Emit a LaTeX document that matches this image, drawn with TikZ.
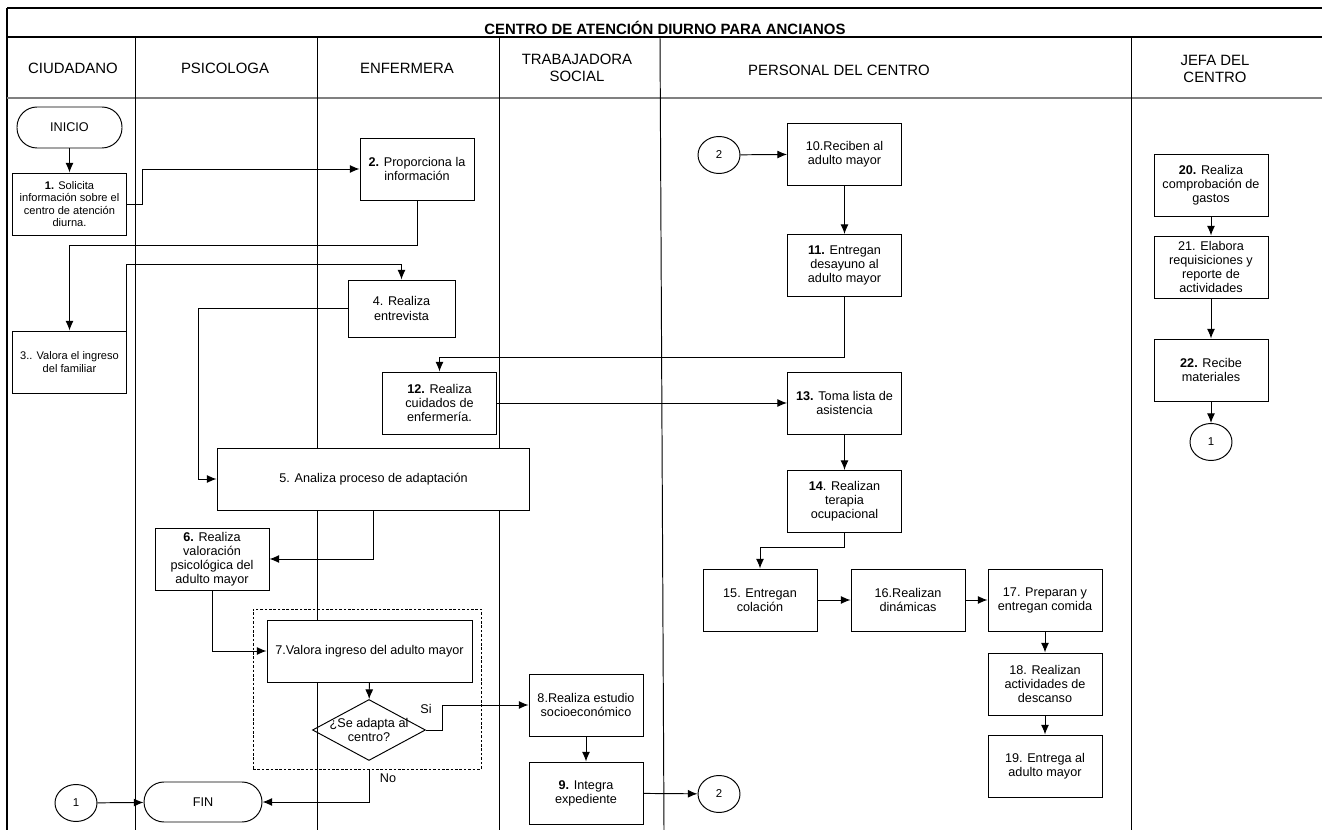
\documentclass[tikz,border=0pt]{standalone}
\usepackage{fontspec}
\setmainfont{Liberation Sans}
\usetikzlibrary{arrows.meta}
\usetikzlibrary{shapes.geometric}
\tikzstyle{box}=[rectangle, draw=black, fill=white, line width=.55pt,
                 minimum width=2.28cm, minimum height=1.24cm, inner sep=0pt,
                 align=center, font=\fontsize{7.2}{8}\selectfont]
\tikzstyle{term}=[rectangle, rounded corners=.4cm, draw=black, fill=white,
                  line width=.55pt, minimum height=.82cm, inner sep=0pt,
                  font=\fontsize{7.2}{8}\selectfont]
\tikzstyle{conn}=[ellipse, draw=black, fill=white, line width=.55pt,
                  minimum width=.84cm, minimum height=.74cm, inner sep=0pt,
                  font=\fontsize{6.5}{7}\selectfont]
\tikzstyle{dec}=[diamond, draw=black, line width=.55pt, minimum width=2.26cm,
                 minimum height=1.22cm, inner sep=0pt]
\tikzstyle{arr}=[-{Latex[length=5.5pt,width=4.5pt]}, line width=.55pt]
\tikzstyle{hdr}=[align=center, font=\fontsize{8.5}{9.5}\selectfont]
\tikzstyle{lbl}=[inner sep=0pt, font=\fontsize{7.2}{8}\selectfont]

\begin{document}
\begin{tikzpicture}[x=0.02cm, y=-0.02cm]
    \useasboundingbox (0,0) rectangle (1322,830);
    % frame and lanes
    \draw[line width=.6pt] (7,8) -- (1322,8);
    \draw[line width=.6pt] (7,8) -- (7,830);
    \draw[line width=.6pt] (7,37) -- (1322,37);
    \draw[gray, line width=1.2pt] (7,98) -- (1322,98);
    \foreach \x in {135,317,499,1131}
      \draw[line width=.55pt] (\x,37) -- (\x,830);
    \draw[line width=.55pt] (660,37) -- (664,830);
    \node[font=\bfseries\fontsize{8.5}{9.5}\selectfont] (titulo) at (665,28)
      {CENTRO DE ATENCIÓN DIURNO PARA ANCIANOS};
    \node[hdr] (h1) at (73,68) {CIUDADANO};
    \node[hdr] (h2) at (225,68) {PSICOLOGA};
    \node[hdr] (h3) at (407,68) {ENFERMERA};
    \node[hdr] (h4) at (577,68) {TRABAJADORA\\SOCIAL};
    \node[hdr] (h5) at (839,70) {PERSONAL DEL CENTRO};
    \node[hdr] (h6) at (1215,69) {JEFA DEL\\CENTRO};
    % nodes
    \node[draw, dash pattern=on 1.5pt off 1pt, line width=.5pt,
      minimum width=4.56cm, minimum height=3.2cm] (grupo) at (367,689) {};
    \node[term, minimum width=2.1cm] (inicio) at (69.5,127.5) {INICIO};
    \node[box, font=\fontsize{6.3}{7}\selectfont] (p1) at (69.5,204)
      {\textbf{1.} Solicita\\información sobre el\\centro de atención\\diurna.};
    \node[box] (p2) at (417,169) {\textbf{2.} Proporciona la\\información};
    \node[box, font=\fontsize{6.3}{7}\selectfont] (p3) at (69.5,362)
      {3.. Valora el ingreso\\del familiar};
    \node[box, minimum width=2.14cm, minimum height=1.14cm] (p4) at (401.5,308.5)
      {4. Realiza\\entrevista};
    \node[box] (p12) at (439.5,403) {\textbf{12.} Realiza\\cuidados de\\enfermería.};
    \node[box, minimum width=6.26cm] (p5) at (373.5,479)
      {5. Analiza proceso de adaptación};
    \node[box] (p6) at (212,559)
      {\textbf{6.} Realiza\\valoración\\psicológica del\\adulto mayor};
    \node[box, minimum width=4.1cm] (p7) at (369.5,651)
      {7.Valora ingreso del adulto mayor};
    \node[dec, label={[align=center, font=\fontsize{7.2}{8}\selectfont]center:¿Se adapta al\\centro?}]
      (d) at (369,730) {};
    \node[lbl] (si) at (426,709) {Si};
    \node[lbl] (no) at (388,778) {No};
    \node[term, minimum width=2.36cm, minimum height=.8cm] (fin) at (203,802) {FIN};
    \node[conn] (c1a) at (76,803) {1};
    \node[box] (p8) at (586,705) {8.Realiza estudio\\socioeconómico};
    \node[box] (p9) at (586,793) {\textbf{9.} Integra\\expediente};
    \node[conn] (c2a) at (719,794) {2};
    \node[conn] (c2b) at (719,155) {2};
    \node[box] (p10) at (844.5,154) {10.Reciben al\\adulto mayor};
    \node[box] (p11) at (844.5,265.5) {\textbf{11.} Entregan\\desayuno al\\adulto mayor};
    \node[box] (p13) at (844.5,403) {\textbf{13.} Toma lista de\\asistencia};
    \node[box] (p14) at (844.5,501.5) {\textbf{14}. Realizan\\terapia\\ocupacional};
    \node[box] (p15) at (760,600) {15. Entregan\\colación};
    \node[box] (p16) at (908,600) {16.Realizan\\dinámicas};
    \node[box] (p17) at (1045,600) {17. Preparan y\\entregan comida};
    \node[box] (p18) at (1045,684) {18. Realizan\\actividades de\\descanso};
    \node[box] (p19) at (1045,766) {19. Entrega al\\adulto mayor};
    \node[box] (p20) at (1211,185) {\textbf{20.} Realiza\\comprobación de\\gastos};
    \node[box] (p21) at (1211,267) {21. Elabora\\requisiciones y\\reporte de\\actividades};
    \node[box] (p22) at (1211,370) {\textbf{22.} Recibe\\materiales};
    \node[conn] (c1b) at (1211,442) {1};
    % connectors
    \draw[arr] (inicio) -- (p1);
    \draw[arr] (p1.east) -- ++(16,0) |- (p2.west);
    \draw[arr] (p2.south) -- ++(0,45) -| (p3.north);
    \draw[arr] (p3.east) -- (p3.east |- 0,264) -| (p4.north);
    \draw[arr] (p4.west) -- ++(-149,0) |- (p5.west);
    \draw[arr] (p5.south) |- (p6.east);
    \draw[arr] (p6.south) |- (p7.west);
    \draw[arr] (p7) -- (d);
    \draw[arr] (d.east) -- ++(17,0) |- (p8.west);
    \draw[arr] (d.south |- grupo.south) |- (fin.east);
    \draw[arr] (c1a) -- (fin);
    \foreach \from/\to in {p8/p9, p9/c2a, c2b/p10, p10/p11, p12/p13, p13/p14,
          p15/p16, p16/p17, p17/p18, p18/p19, p20/p21, p21/p22, p22/c1b}
      \draw[arr] (\from) -- (\to);
    \draw[arr] (p11.south) -- ++(0,61) -| (p12.north);
    \draw[arr] (p14.south) -- ++(0,15) -| (p15.north);
\end{tikzpicture}
\end{document}
